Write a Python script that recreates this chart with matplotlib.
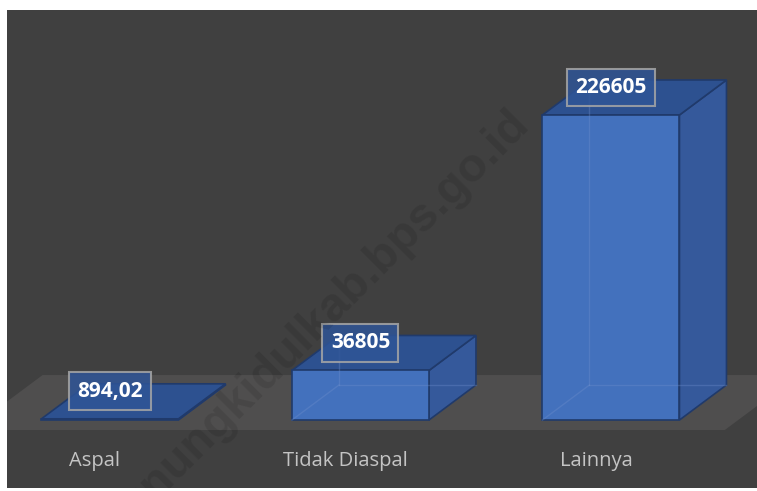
import matplotlib
matplotlib.use('Agg')
import matplotlib.pyplot as plt
from matplotlib.patches import Polygon

# Data
kategori = ['Aspal', 'Tidak Diaspal', 'Lainnya']
nilai = [894.02, 36805, 226605]
label_nilai = ['894,02', '36805', '226605']

# Colors
COR_FUNDO = '#404040'
COR_PISO = '#4f4e4e'
COR_FRENTE = '#4371bd'
COR_LADO = '#35599b'
COR_TOPO = '#2d5190'
COR_ARESTA = '#203a6b'

fig = plt.figure(figsize=(7.57, 4.91), dpi=100, facecolor='white')
ax = fig.add_axes([7 / 757, 3 / 491, 750 / 757, 478 / 491])
ax.set_facecolor(COR_FUNDO)
ax.set_xlim(-0.411, 2.583)
ax.set_ylim(-50500, 304600)
ax.set_xticks([])
ax.set_yticks([])
for s in ax.spines.values():
    s.set_visible(False)

# 3D depth offset (data units)
L = 0.547          # largura da barra
DX = 0.1876        # deslocamento horizontal da profundidade
DY = 26004         # deslocamento vertical da profundidade


def pt(x, v, d):
    return (x + d * DX, v + d * DY)


# Piso (floor)
xa, xb = -0.51, 2.508
d0, d1 = -0.286, 1.286
piso = [pt(xa, 0, d0), pt(xb, 0, d0), pt(xb, 0, d1), pt(xa, 0, d1)]
ax.add_patch(Polygon(piso, closed=True, facecolor=COR_PISO, edgecolor='none', zorder=1))

# Barras 3D
for i, v in enumerate(nilai):
    x0, x1 = i - L / 2, i + L / 2
    lado = [pt(x1, 0, 0), pt(x1, 0, 1), pt(x1, v, 1), pt(x1, v, 0)]
    topo = [pt(x0, v, 0), pt(x1, v, 0), pt(x1, v, 1), pt(x0, v, 1)]
    frente = [pt(x0, 0, 0), pt(x1, 0, 0), pt(x1, v, 0), pt(x0, v, 0)]
    ax.add_patch(Polygon(lado, closed=True, facecolor=COR_LADO,
                         edgecolor=COR_ARESTA, linewidth=1.2, zorder=2))
    ax.add_patch(Polygon(topo, closed=True, facecolor=COR_TOPO,
                         edgecolor=COR_ARESTA, linewidth=1.2, zorder=3))
    ax.add_patch(Polygon(frente, closed=True, facecolor=COR_FRENTE,
                         edgecolor=COR_ARESTA, linewidth=1.2, zorder=4))
    # arestas escondidas (leve transparencia)
    if v > 5000:
        bx, by = pt(x0, 0, 1)
        fx, fy = pt(x0, 0, 0)
        rx, ry = pt(x1, 0, 1)
        tx, ty = pt(x0, v, 1)
        kw = dict(color='#6f8fcc', linewidth=1, alpha=0.35, zorder=5)
        ax.plot([fx, bx], [fy, by], **kw)
        ax.plot([bx, rx], [by, ry], **kw)
        ax.plot([bx, tx], [by, ty], **kw)

# Rotulos de valor
for i, (v, txt) in enumerate(zip(nilai, label_nilai)):
    ax.text(i, v + 0.79 * DY, txt, ha='center', va='center',
            fontsize=15, fontweight='bold', color='white',
            family=['Open Sans', 'DejaVu Sans'], zorder=7,
            bbox=dict(boxstyle='square,pad=0.4', facecolor='#2f5597',
                      alpha=0.85, edgecolor='#a6a6a6', linewidth=1.5))

# Rotulos das categorias
for i, nome in enumerate(kategori):
    ax.text(i - 0.06, -30460, nome, ha='center', va='center',
            fontsize=14.5, color='#c4c4c4',
            family=['Open Sans', 'DejaVu Sans'], zorder=6)

# Marca d'agua (cortada pela borda inferior, como no original)
ax.text(1.645, 224400, 'gunungkidulkab.bps.go.id', ha='right', va='center',
        rotation=45, rotation_mode='anchor', fontsize=34, fontweight='bold',
        color='black', alpha=0.1, family=['Liberation Sans', 'DejaVu Sans'],
        zorder=8, clip_on=True)

fig.savefig('out.png', dpi=100, facecolor='white')
